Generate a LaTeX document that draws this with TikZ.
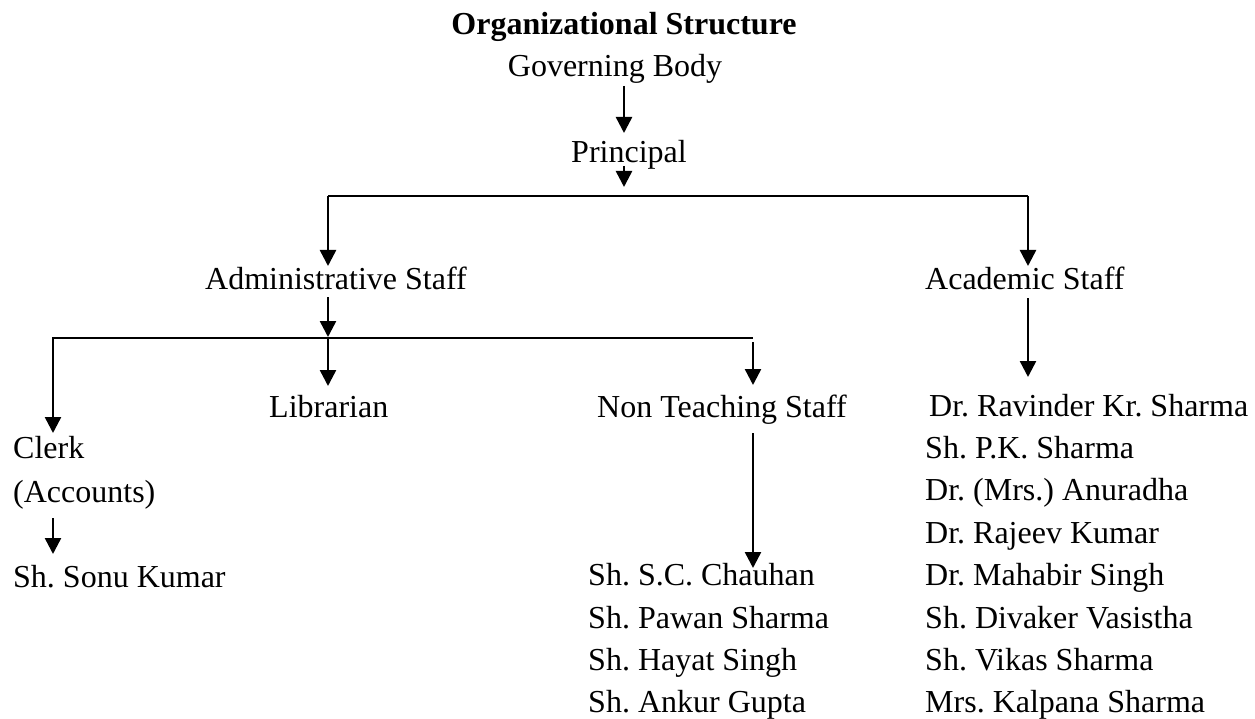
\documentclass[tikz,border=0pt]{standalone}
\usepackage{fontspec}
\setmainfont{Liberation Serif}
\usetikzlibrary{arrows.meta}
\frenchspacing
\begin{document}
\begin{tikzpicture}[x=1pt,y=-1pt,
  lbl/.style={anchor=base west,inner sep=0pt,font=\fontsize{32}{38}\selectfont},
  ctr/.style={anchor=base,inner sep=0pt,font=\fontsize{32}{38}\selectfont},
  arr/.style={line width=2.5pt,-{Triangle[width=16pt,length=16pt]}},
  ln/.style={line width=2.5pt}]
\useasboundingbox (0,0) rectangle (1255,719);
% texts
\node[ctr,font=\fontsize{32}{38}\selectfont\bfseries] (title) at (624,35) {Organizational Structure};
\node[ctr] (gov) at (615,77) {Governing Body};
\node[ctr] (prin) at (629,163) {Principal};
\node[lbl] (admin) at (205,289) {Administrative Staff};
\node[lbl] (acad) at (925,289) {Academic Staff};
\node[lbl] (lib) at (269,417) {Librarian};
\node[lbl] (nts) at (597,417) {Non Teaching Staff};
\node[lbl] (clerk) at (13,458) {Clerk};
\node[lbl] (acc) at (13,502) {(Accounts)};
\node[lbl] (sonu) at (13,587) {Sh. Sonu Kumar};
\node[lbl] (n1) at (588,585) {Sh. S.C. Chauhan};
\node[lbl] (n2) at (588,628) {Sh. Pawan Sharma};
\node[lbl] (n3) at (588,670) {Sh. Hayat Singh};
\node[lbl] (n4) at (588,712) {Sh. Ankur Gupta};
\node[lbl] (a1) at (929,416) {Dr. Ravinder Kr. Sharma};
\node[lbl] (a2) at (925,458) {Sh. P.K. Sharma};
\node[lbl] (a3) at (925,500) {Dr. (Mrs.) Anuradha};
\node[lbl] (a4) at (925,543) {Dr. Rajeev Kumar};
\node[lbl] (a5) at (925,585) {Dr. Mahabir Singh};
\node[lbl] (a6) at (925,628) {Sh. Divaker Vasistha};
\node[lbl] (a7) at (925,670) {Sh. Vikas Sharma};
\node[lbl] (a8) at (925,712) {Mrs. Kalpana Sharma};
% connector points
\coordinate (govB) at (624,86);
\coordinate (prinT) at (624,133);
\coordinate (prinB) at (624,166);
\coordinate (prinJ) at (624,187);
\coordinate (barL) at (328,196);
\coordinate (barR) at (1028,196);
\coordinate (adminT) at (328,266);
\coordinate (acadT) at (1028,266);
\coordinate (adminB) at (328,297);
\coordinate (adminJ) at (328,337);
\coordinate (bar2L) at (53,338);
\coordinate (bar2R) at (753,338);
\coordinate (clerkT) at (53,433);
\coordinate (libT) at (328,386);
\coordinate (ntsA) at (753,342);
\coordinate (ntsT) at (753,385);
\coordinate (acadB) at (1028,298);
\coordinate (a1T) at (1028,377);
\coordinate (ntsB) at (753,433);
\coordinate (n1T) at (753,568);
\coordinate (accB) at (53,518);
\coordinate (sonuT) at (53,554);
% connectors
\draw[arr] (govB) -- (prinT);
\draw[arr] (prinB) -- (prinJ);
\draw[ln] (barL) -- (barR);
\draw[arr] (barL) -- (adminT);
\draw[arr] (barR) -- (acadT);
\draw[arr] (adminB) -- (adminJ);
\draw[ln] ([yshift=-3pt]bar2L) -- (bar2L) -- (bar2R);
\draw[arr] (bar2L) -- (clerkT);
\draw[arr] (adminJ) -- (libT);
\draw[arr] (ntsA) -- (ntsT);
\draw[arr] (acadB) -- (a1T);
\draw[arr] (ntsB) -- (n1T);
\draw[arr] (accB) -- (sonuT);
\end{tikzpicture}
\end{document}
